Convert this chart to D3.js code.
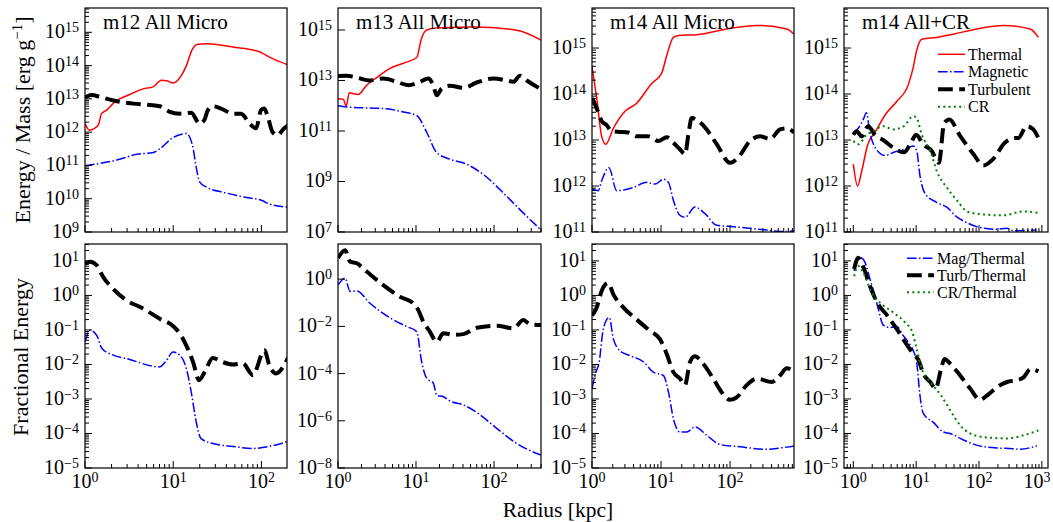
<!DOCTYPE html>
<html><head><meta charset="utf-8">
<script src="https://cdn.jsdelivr.net/npm/d3@7"></script>
<style>
body{margin:0;background:#fff}
svg{display:block}
text{font-family:"Liberation Serif","Times New Roman",serif;fill:#000}
</style>
</head><body>
<svg id="c" width="1053" height="522"></svg>
<script>
// ---------- m12 All Micro : energy per mass ----------
const m12ThermR = [1.0,1.12,1.41,1.54,1.76,2.18,3.22,4.56,5.91,7.36,8.38,9.95,12.4,14.1,16.5,19.1,23.7,47.4,94.9,123,200];
const m12Therm  = [1.8e12,1.15e12,1.6e12,3.6e12,4.6e12,8.1e12,1.35e13,2.0e13,2.3e13,3.6e13,3.5e13,3.0e13,5.1e13,1.0e14,3.1e14,4.4e14,4.5e14,3.6e14,2.6e14,1.8e14,1.05e14];
const m12TurbR  = [1.0,1.19,1.48,1.92,2.49,3.51,5.43,7.04,9.12,11.8,16.0,19.9,22.7,24.7,28.2,35.0,47.4,58.9,73.4,87.0,99.1,108,118,134,152,181,200];
const m12Turb   = [1.1e13,1.3e13,1.15e13,9.5e12,8.1e12,7.2e12,6.5e12,6.0e12,4.1e12,3.6e12,3.8e12,1.8e12,2.4e12,4.6e12,6.0e12,5.1e12,3.6e12,3.6e12,1.8e12,1.3e12,4.6e12,5.1e12,2.9e12,1.0e12,8.1e11,1.3e12,1.6e12];
const m12MagR   = [1.0,1.48,2.29,4.0,5.8,7.1,9.95,12.4,14.1,16.5,18.2,19.9,23.3,39.4,66.0,103,123,200];
const m12Mag    = [9.8e10,1.15e11,1.45e11,2.2e11,2.4e11,3.2e11,6.9e11,8.7e11,9.1e11,4.1e11,9.1e10,3.2e10,2.3e10,1.5e10,1.1e10,8.7e9,6.9e9,5.6e9];

// ---------- m13 All Micro ----------
const m13ThermR = [1.0,1.17,1.27,1.40,1.57,1.82,2.33,3.13,4.64,6.87,10.2,11.8,13.7,18.4,54.3,195,400];
const m13Therm  = [1.9e12,1.8e12,9.8e11,3.3e12,3.0e12,2.8e12,6.5e12,1.3e13,3.0e13,4.8e13,8.1e13,4.8e14,1.0e15,1.2e15,1.3e15,9.8e14,4.0e14];
const m13TurbR  = [1.0,1.29,1.74,2.57,3.81,5.66,7.97,11.3,14.4,16.7,18.4,21.4,27.3,40.4,60.0,98,145,177,215,263,400];
const m13Turb   = [1.5e13,1.55e13,1.3e13,1.0e13,1.2e13,8.9e12,6.5e12,8.9e12,1.2e13,6.2e12,2.6e12,4.8e12,6.2e12,5.1e12,8.3e12,1.2e13,1.0e13,8.9e12,1.55e13,1.0e13,4.5e12];
const m13MagR   = [1.0,1.29,4.21,6.87,10.2,13.7,18.4,27.3,44.7,72.9,145,238,400];
const m13Mag    = [1.0e12,8.9e11,7.6e11,5.6e11,4.1e11,8.9e10,1.4e10,7.6e9,4.8e9,1.9e9,2.6e8,5.6e7,1.2e7];

// ---------- m14 All Micro ----------
const m14ThermR = [1.0,1.17,1.38,1.58,2.04,3.01,4.44,7.33,10.2,12.1,15.1,18.8,32.9,89.6,244,663,845];
const m14Therm  = [3.9e14,8.1e13,1.2e13,8.1e12,1.8e13,4.2e13,6.3e13,1.7e14,2.8e14,6.9e14,1.7e15,1.9e15,1.95e15,2.6e15,3.1e15,2.6e15,2.0e15];
const m14TurbR  = [1.0,1.17,1.38,1.63,1.93,2.55,3.36,4.44,6.54,9.14,12.1,15.1,18.8,22.3,24.9,27.8,34.7,45.9,64.1,100,132,195,272,380,531,663,845];
const m14Turb   = [8.1e13,4.9e13,2.6e13,2.1e13,1.55e13,1.5e13,1.45e13,1.2e13,1.2e13,9.5e12,1.15e13,8.7e12,6.3e12,4.9e12,1.3e13,3.0e13,2.6e13,1.7e13,8.1e12,3.2e12,4.2e12,9.5e12,1.2e13,1.05e13,1.7e13,1.8e13,1.45e13];
const m14MagR   = [1.0,1.23,1.38,1.76,2.28,3.97,6.21,8.19,10.8,12.8,15.1,18.8,22.3,31.1,43.4,64.1,112,340,529,845];
const m14Mag    = [8.7e11,7.9e11,1.3e12,2.5e12,7.9e11,9.3e11,1.2e12,1.1e12,1.4e12,1.2e12,4.9e11,2.3e11,2.1e11,3.5e11,2.5e11,1.4e11,1.3e11,1.1e11,1.02e11,1.05e11];

// ---------- m14 All+CR ----------
const m14crThermR = [1.0,1.17,1.36,1.67,2.36,3.20,4.91,7.51,9.02,10.2,12.3,21.3,39.1,92.2,245,651,883];
const m14crTherm  = [3.0e12,1.0e12,2.1e12,7.4e12,1.7e13,3.5e13,6.9e13,1.6e14,3.9e14,8.9e14,1.55e15,1.7e15,2.0e15,2.6e15,3.1e15,2.6e15,1.7e15];
const m14crMagR   = [1.0,1.20,1.44,1.62,1.82,2.32,3.20,4.42,6.52,8.98,10.2,11.6,13.9,20.6,30.3,44.8,64.0,92.2,193,277,354,829];
const m14crMag    = [1.45e13,1.8e13,2.8e13,3.9e13,1.55e13,6.3e12,4.6e12,5.4e12,6.3e12,7.4e12,5.8e12,1.55e12,6.8e11,4.5e11,3.5e11,2.1e11,1.6e11,1.3e11,1.15e11,1.2e11,1.07e11,1.1e11];
const m14crTurbR  = [1.0,1.13,1.36,1.73,2.20,2.99,4.33,6.37,8.26,10.0,12.9,17.7,23.0,27.9,33.8,48.9,81.8,117,166,258,372,421,572,731,883];
const m14crTurb   = [1.3e13,1.55e13,1.2e13,2.0e13,1.3e13,1.0e13,6.8e12,5.4e12,8.7e12,1.3e13,8.1e12,5.8e12,3.2e12,2.3e13,2.8e13,1.3e13,4.9e12,2.8e12,3.8e12,8.7e12,1.1e13,1.1e13,2.0e13,1.7e13,1.1e13];
const m14crCRR    = [1.0,1.20,1.62,2.06,2.99,4.33,6.37,9.02,10.2,12.3,16.8,21.3,30.7,44.4,64.4,92.2,245,508,883];
const m14crCR     = [9.5e12,8.1e12,1.3e13,1.55e13,2.0e13,1.7e13,2.0e13,3.3e13,3.0e13,1.3e13,5.8e12,2.1e12,9.3e11,4.9e11,2.8e11,2.5e11,2.3e11,2.8e11,2.6e11];

// ---------- fractional energies ----------
const m12TurbFR = [1.0,1.14,1.36,1.61,2.09,2.96,4.55,7.04,9.95,12.3,14.1,16.8,19.6,22.7,28.1,36.5,47.4,61.6,80.0,108,123,146,200];
const m12TurbF  = [8.3,9.5,7.4,3.4,1.55,0.72,0.42,0.21,0.13,0.069,0.035,0.0117,0.0035,0.006,0.0155,0.0117,0.010,0.0107,0.0049,0.0257,0.0095,0.0055,0.0155];
const m12MagFR  = [1.0,1.14,1.36,1.56,2.09,2.96,7.04,8.4,9.95,11.9,14.1,16.0,18.2,20.6,28.1,47.4,80.0,200];
const m12MagF   = [0.045,0.098,0.069,0.029,0.0186,0.0148,0.0085,0.0132,0.023,0.0186,0.0076,0.0016,2.2e-4,7.2e-5,5.1e-5,4.2e-5,3.7e-5,5.9e-5];

const m13TurbFR = [1.0,1.23,1.43,1.74,2.33,3.81,6.23,9.2,10.7,12.4,15.1,18.4,22.4,30.1,40.4,60.0,108,177,238,290,400];
const m13TurbF  = [7.8,17,5.5,4.7,2.1,0.56,0.18,0.095,0.049,0.0158,0.0059,0.0022,0.0051,0.0044,0.0047,0.0087,0.0107,0.0083,0.0186,0.0123,0.0115];
const m13MagFR  = [1.0,1.23,1.43,1.74,2.57,4.64,7.6,10.2,11.8,13.7,16.7,18.4,22.4,27.3,40.4,66.2,108,195,400];
const m13MagF   = [0.56,1.1,0.30,0.32,0.095,0.023,0.0098,0.006,3.2e-4,6.3e-5,3.9e-5,1.2e-5,1.05e-5,6.9e-6,4.7e-6,1.8e-6,4.8e-7,1.1e-7,3.5e-8];

const m14TurbFR = [1.0,1.17,1.38,1.72,2.04,2.84,4.44,6.9,9.6,12.1,15.1,18.8,22.2,26.2,30.9,40.9,57.0,75.1,99.3,124,174,244,403,529,664,845];
const m14TurbF  = [0.26,0.45,1.35,2.3,1.07,0.45,0.20,0.095,0.055,0.020,0.006,0.0039,0.0025,0.0115,0.0174,0.0105,0.0039,0.0016,9.5e-4,1.1e-3,2.5e-3,3.9e-3,3.1e-3,4.8e-3,7.8e-3,6.3e-3];
const m14MagFR  = [1.0,1.14,1.27,1.43,1.63,1.78,2.04,2.55,3.55,5.54,7.73,10.8,12.8,15.1,18.8,23.6,31.1,45.9,71.6,140,340,529,845];
const m14MagF   = [2.0e-3,6.0e-3,0.0115,0.085,0.20,0.23,0.055,0.025,0.018,0.012,0.006,0.0048,1.6e-3,2.7e-4,1.1e-4,1.1e-4,1.55e-4,8.9e-5,4.8e-5,4.1e-5,3.5e-5,3.8e-5,4.3e-5];

const m14crMagFR  = [1.03,1.13,1.31,1.54,1.84,2.21,2.50,3.00,3.84,4.91,6.25,7.51,9.02,10.2,11.5,13.0,18.8,27.2,34.9,56.4,92.2,193,311,451,832];
const m14crMagF   = [5.1,9.8,12.3,8.9,3.0,0.98,0.40,0.138,0.117,0.126,0.068,0.044,0.025,0.0115,1.26e-3,3.8e-4,2.1e-4,1.1e-4,1.0e-4,6.5e-5,4.6e-5,3.8e-5,3.7e-5,3.5e-5,4.4e-5];
const m14crTurbFR = [1.03,1.20,1.46,1.84,2.40,3.47,4.91,6.7,8.7,11.0,13.0,16.8,20.4,24.9,28.2,34.9,50.1,72.3,104,134,193,280,403,517,660,883];
const m14crTurbF  = [5.8,12.3,6.3,1.86,0.62,0.26,0.107,0.044,0.022,0.0129,5.4e-3,3.1e-3,2.0e-3,7.4e-3,0.0145,0.0105,4.8e-3,2.0e-3,9.5e-4,1.26e-3,2.2e-3,3.1e-3,3.5e-3,4.3e-3,7.4e-3,6.3e-3];
const m14crCRFR   = [1.03,1.20,1.44,1.96,2.65,4.33,6.7,8.7,10.2,12.3,16.8,24.9,34.9,50.1,72.3,117,277,517,883];
const m14crCRF    = [3.6,7.1,4.6,1.2,0.62,0.32,0.162,0.085,0.028,7.4e-3,3.1e-3,1.26e-3,4.7e-4,1.74e-4,1.0e-4,7.9e-5,7.2e-5,8.9e-5,1.23e-4];

// ---------- tick labels (exponents of 10) ----------
const yTicksTopA = [9,10,11,12,13,14,15];
const yTicksTopB = [7,9,11,13,15];
const yTicksTopC = [11,12,13,14,15];
const yTicksBotA = [-5,-4,-3,-2,-1,0,1];
const yTicksBotB = [-8,-6,-4,-2,0];
const xTicksA = [0,1,2];
const xTicksB = [0,1,2,3];

const titles = ["m12 All Micro","m13 All Micro","m14 All Micro","m14 All+CR"];
const legendTop = ["Thermal","Magnetic","Turbulent","CR"];
const legendBot = ["Mag/Thermal","Turb/Thermal","CR/Thermal"];

// ---------- styles ----------
const styles = {
  thermal:{stroke:"#ff0000", w:1.5, dash:null},
  magnetic:{stroke:"#0000ff", w:1.5, dash:"9.6,2.4,1.5,2.4"},
  turb:{stroke:"#000000", w:4, dash:"14.8,6.4"},
  cr:{stroke:"#008000", w:2, dash:"2,3.3"}
};

const lefts = [85, 338, 592, 844], rights = [287, 541, 794, 1048];
const tops = [8, 244], bottoms = [232, 468];
const xDomains = [[1,195],[1,400],[1,845],[0.711,1253]];

const panels = [
  {c:0,r:0,yd:[1e9,10**15.73],yt:yTicksTopA,minor:true,xt:xTicksA,s:[[m12ThermR,m12Therm,"thermal"],[m12MagR,m12Mag,"magnetic"],[m12TurbR,m12Turb,"turb"]]},
  {c:1,r:0,yd:[1e7,10**15.87],yt:yTicksTopB,minor:false,xt:xTicksA,s:[[m13ThermR,m13Therm,"thermal"],[m13MagR,m13Mag,"magnetic"],[m13TurbR,m13Turb,"turb"]]},
  {c:2,r:0,yd:[1e11,10**15.87],yt:yTicksTopC,minor:true,xt:xTicksA,s:[[m14ThermR,m14Therm,"thermal"],[m14MagR,m14Mag,"magnetic"],[m14TurbR,m14Turb,"turb"]]},
  {c:3,r:0,yd:[1e11,10**15.87],yt:yTicksTopC,minor:true,xt:xTicksB,s:[[m14crThermR,m14crTherm,"thermal"],[m14crMagR,m14crMag,"magnetic"],[m14crTurbR,m14crTurb,"turb"],[m14crCRR,m14crCR,"cr"]]},
  {c:0,r:1,yd:[1e-5,10**1.49],yt:yTicksBotA,minor:true,xt:xTicksA,s:[[m12MagFR,m12MagF,"magnetic"],[m12TurbFR,m12TurbF,"turb"]]},
  {c:1,r:1,yd:[1e-8,10**1.49],yt:yTicksBotB,minor:false,xt:xTicksA,s:[[m13MagFR,m13MagF,"magnetic"],[m13TurbFR,m13TurbF,"turb"]]},
  {c:2,r:1,yd:[1e-5,10**1.49],yt:yTicksBotA,minor:true,xt:xTicksA,s:[[m14MagFR,m14MagF,"magnetic"],[m14TurbFR,m14TurbF,"turb"]]},
  {c:3,r:1,yd:[1e-5,10**1.49],yt:yTicksBotA,minor:true,xt:xTicksB,s:[[m14crMagFR,m14crMagF,"magnetic"],[m14crTurbFR,m14crTurbF,"turb"],[m14crCRFR,m14crCRF,"cr"]]}
];

const svg = d3.select("#c");
const TICK = 20, SUP = 14;

function supText(g, x, y, anchor, base, exp, size, supSize, dy){
  const t = g.append("text").attr("x",x).attr("y",y).attr("text-anchor",anchor).style("font-size",size+"px");
  t.append("tspan").text(base);
  t.append("tspan").attr("dy",dy).style("font-size",supSize+"px").text(exp);
  return t;
}
function expStr(e){ return e < 0 ? "\u2212" + Math.abs(e) : String(e); }

panels.forEach((p,i)=>{
  const L = lefts[p.c], R = rights[p.c], T = tops[p.r], B = bottoms[p.r];
  const x = d3.scaleLog().domain(xDomains[p.c]).range([L,R]);
  const y = d3.scaleLog().domain(p.yd).range([B,T]);
  const g = svg.append("g");
  const cid = "clip"+i;
  svg.append("clipPath").attr("id",cid).append("rect").attr("x",L).attr("y",T).attr("width",R-L).attr("height",B-T);

  // data lines
  const line = d3.line().x(d=>x(d[0])).y(d=>y(d[1])).curve(d3.curveMonotoneX);
  const lg = g.append("g").attr("clip-path","url(#"+cid+")");
  p.s.forEach(([rr,vv,st])=>{
    const s = styles[st];
    lg.append("path").datum(rr.map((r,k)=>[r,vv[k]]))
      .attr("d",line).attr("fill","none").attr("stroke",s.stroke)
      .attr("stroke-width",s.w).attr("stroke-dasharray",s.dash);
  });

  // ticks
  const tg = g.append("g").attr("stroke","#000").attr("stroke-width",1);
  const [y0,y1] = p.yd.map(Math.log10);
  p.yt.forEach(e=>{
    const yy = y(10**e);
    tg.append("line").attr("x1",L).attr("x2",L+7).attr("y1",yy).attr("y2",yy);
    supText(g, L-6, yy+6, "end", "10", expStr(e), TICK, SUP, -6);
  });
  if(p.minor){
    for(let n=Math.floor(y0); n<=Math.ceil(y1); n++){
      for(let k=2;k<=9;k++){
        const v = k*10**n;
        if(v>=p.yd[0] && v<=p.yd[1]){
          const yy=y(v);
          tg.append("line").attr("x1",L).attr("x2",L+4).attr("y1",yy).attr("y2",yy);
        }
      }
    }
  }
  const xd = xDomains[p.c];
  p.xt.forEach(e=>{
    const v = 10**e; if(v<xd[0]||v>xd[1]) return;
    const xx = x(v);
    tg.append("line").attr("x1",xx).attr("x2",xx).attr("y1",B).attr("y2",B-7);
    if(p.r===1) supText(g, Math.min(xx, 1037), B+20, "middle", "10", expStr(e), TICK, SUP, -6);
  });
  for(let n=Math.floor(Math.log10(xd[0])); n<=Math.ceil(Math.log10(xd[1])); n++){
    for(let k=2;k<=9;k++){
      const v=k*10**n;
      if(v>=xd[0]&&v<=xd[1]){
        const xx=x(v);
        tg.append("line").attr("x1",xx).attr("x2",xx).attr("y1",B).attr("y2",B-4);
      }
    }
  }
  // frame
  g.append("rect").attr("x",L).attr("y",T).attr("width",R-L).attr("height",B-T)
    .attr("fill","none").attr("stroke","#000").attr("stroke-width",1.2);

  if(p.r===0){
    g.append("text").attr("x",L+18).attr("y",T+21).style("font-size","21px").text(titles[p.c]);
  }
});

// legends
function legend(items, keys, x0, y0, dyRow, len, fs){
  const lg = svg.append("g");
  items.forEach((t,k)=>{
    const s = styles[keys[k]], yy = y0 + k*dyRow;
    lg.append("line").attr("x1",x0).attr("x2",x0+len).attr("y1",yy).attr("y2",yy)
      .attr("stroke",s.stroke).attr("stroke-width",s.w).attr("stroke-dasharray",s.dash);
    lg.append("text").attr("x",x0+len+3).attr("y",yy+5.5).style("font-size",fs+"px").text(t);
  });
}
legend(legendTop, ["thermal","magnetic","turb","cr"], 938, 54.3, 17.5, 27, 16);
legend(legendBot, ["magnetic","turb","cr"], 907, 258.3, 17, 27, 16);

// axis labels
const yl1 = svg.append("text").attr("transform","translate(30,120) rotate(-90)")
  .attr("text-anchor","middle").style("font-size","22px");
yl1.append("tspan").text("Energy / Mass [erg g");
yl1.append("tspan").attr("dy",-8).style("font-size","15px").text("\u22121");
yl1.append("tspan").attr("dy",8).text("]");
svg.append("text").attr("transform","translate(28,357) rotate(-90)")
  .attr("text-anchor","middle").style("font-size","22px").text("Fractional Energy");
svg.append("text").attr("x",558).attr("y",517).attr("text-anchor","middle")
  .style("font-size","21.5px").text("Radius [kpc]");
</script>
</body></html>
